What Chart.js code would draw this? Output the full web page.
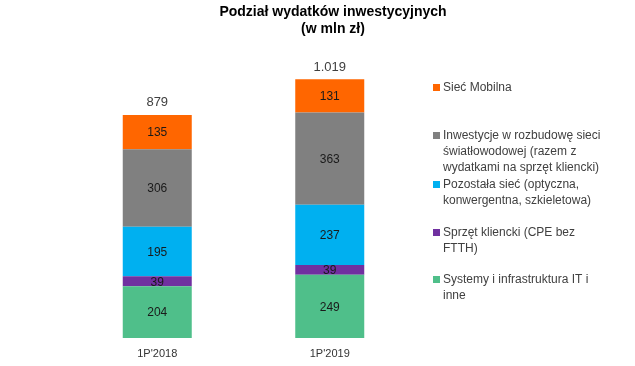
<!DOCTYPE html>
<html>
<head>
<meta charset="utf-8">
<script src="https://cdn.jsdelivr.net/npm/chart.js@4.4.0/dist/chart.umd.min.js"></script>
<style>
  html, body { margin: 0; padding: 0; background: #fff; }
  #wrap { width: 635px; height: 366px; position: relative; }
</style>
</head>
<body>
<div id="wrap"><canvas id="capex"></canvas></div>
<script>
const categories = ["1P'2018", "1P'2019"];

// stacking order, bottom to top
const seriesNames = [
    'Systemy i infrastruktura IT i inne',
    'Sprzęt kliencki (CPE bez FTTH)',
    'Pozostała sieć (optyczna, konwergentna, szkieletowa)',
    'Inwestycje w rozbudowę sieci światłowodowej (razem z wydatkami na sprzęt kliencki)',
    'Sieć Mobilna'
];
const itSystems = [204, 249];
const cpe = [39, 39];
const otherNetwork = [195, 237];
const fibre = [306, 363];
const mobile = [135, 131];
const totalLabels = ['879', '1.019'];

// legend text as it wraps in the reference, top entry first
const legendLines = [
    ['Sieć Mobilna'],
    ['Inwestycje w rozbudowę sieci', 'światłowodowej (razem z', 'wydatkami na sprzęt kliencki)'],
    ['Pozostała sieć (optyczna,', 'konwergentna, szkieletowa)'],
    ['Sprzęt kliencki (CPE bez', 'FTTH)'],
    ['Systemy i infrastruktura IT i', 'inne']
];
const legendTops = [88, 136, 185, 233, 280];

const colors = ['#4FBF8A', '#7030A0', '#00B0F0', '#808080', '#FF6600'];
const values = [itSystems, cpe, otherNetwork, fibre, mobile];

const FONT = '"Liberation Sans", Arial, sans-serif';

const extrasPlugin = {
    id: 'extras',
    afterDatasetsDraw(chart) {
        const ctx = chart.ctx;
        ctx.save();
        ctx.textAlign = 'center';
        ctx.textBaseline = 'middle';

        // values inside segments
        ctx.font = '12px ' + FONT;
        ctx.fillStyle = '#1a1a1a';
        chart.data.datasets.forEach((ds, di) => {
            chart.getDatasetMeta(di).data.forEach((bar, i) => {
                ctx.fillText(String(ds.data[i]), bar.x, (bar.y + bar.base) / 2 + 1);
            });
        });

        // totals above the bars
        const y = chart.scales.y;
        ctx.font = '13px ' + FONT;
        ctx.fillStyle = '#404040';
        categories.forEach((c, i) => {
            const sum = values.reduce((a, s) => a + s[i], 0);
            const bar = chart.getDatasetMeta(0).data[i];
            ctx.fillText(totalLabels[i], bar.x, y.getPixelForValue(sum) - 12);
        });

        // title
        ctx.font = 'bold 14px ' + FONT;
        ctx.fillStyle = '#000';
        ctx.fillText('Podział wydatków inwestycyjnych', 333, 12);
        ctx.fillText('(w mln zł)', 333, 29);

        // legend
        ctx.textAlign = 'left';
        ctx.font = '12px ' + FONT;
        const n = colors.length;
        legendLines.forEach((lines, k) => {
            const top = legendTops[k];
            ctx.fillStyle = colors[n - 1 - k];
            ctx.fillRect(433, top - 4, 7, 7);
            ctx.fillStyle = '#404040';
            lines.forEach((t, j) => ctx.fillText(t, 443, top + j * 15.7));
        });
        ctx.restore();
    }
};

new Chart(document.getElementById('capex'), {
    type: 'bar',
    data: {
        labels: categories,
        datasets: values.map((v, i) => ({
            label: seriesNames[i],
            data: v,
            backgroundColor: colors[i],
            borderWidth: 0,
            categoryPercentage: 0.8,
            barPercentage: 0.5
        }))
    },
    options: {
        responsive: true,
        maintainAspectRatio: false,
        animation: false,
        layout: { padding: { left: 71, right: 219, top: 40, bottom: 6 } },
        plugins: { legend: { display: false }, title: { display: false }, tooltip: { enabled: false } },
        scales: {
            x: {
                stacked: true,
                grid: { display: false, drawTicks: false },
                border: { display: false },
                ticks: { color: '#333', font: { size: 11, family: FONT }, padding: 9 },
                afterFit(s) { s.height = 22; }
            },
            y: {
                stacked: true,
                display: false,
                min: 0,
                max: 1174
            }
        }
    },
    plugins: [extrasPlugin]
});
</script>
</body>
</html>
